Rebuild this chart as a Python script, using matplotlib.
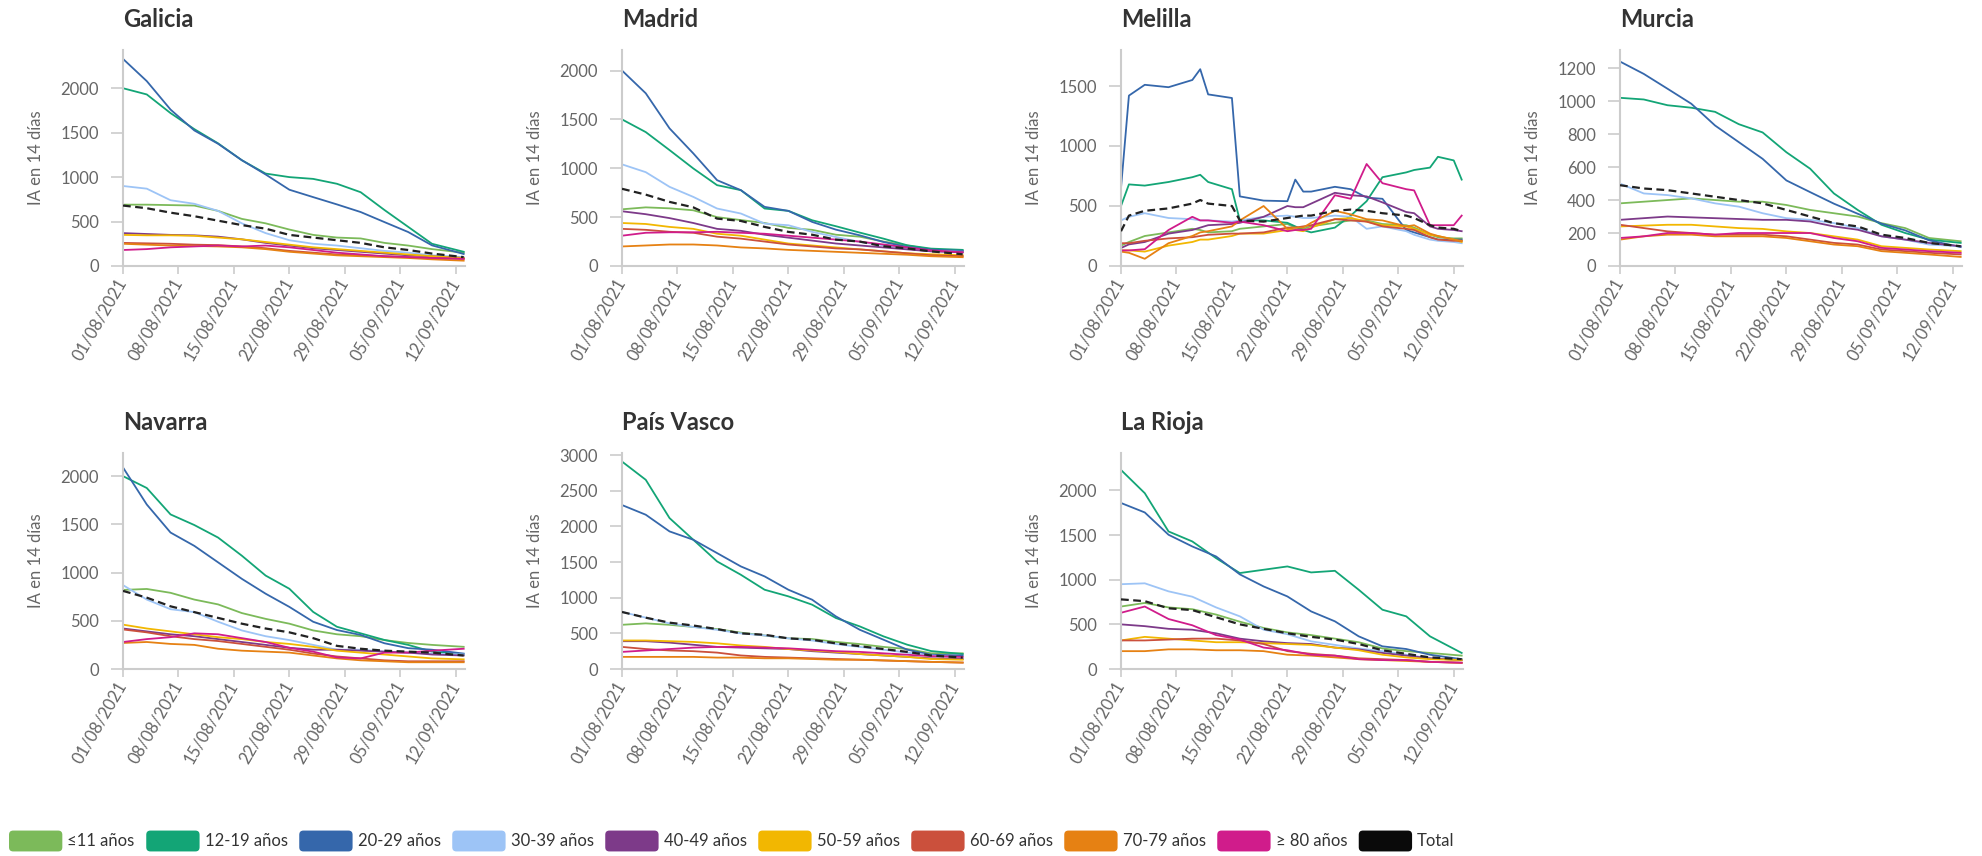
import numpy as np
import pandas as pd
import matplotlib
matplotlib.use("Agg")
import matplotlib.pyplot as plt
import matplotlib.dates as mdates
from matplotlib.patches import Patch, FancyBboxPatch
from matplotlib.legend_handler import HandlerPatch

plt.rcParams['font.family'] = ['Lato', 'DejaVu Sans']

# fechas muestreadas (cada 3 dias aprox.)
fechas = ['2021-08-01', '2021-08-04', '2021-08-07', '2021-08-10', '2021-08-13',
          '2021-08-16', '2021-08-19', '2021-08-22', '2021-08-25', '2021-08-28',
          '2021-08-31', '2021-09-03', '2021-09-06', '2021-09-09', '2021-09-13']
# Melilla tiene saltos bruscos, se lee con mas puntos
fechas_melilla = ['2021-08-01', '2021-08-02', '2021-08-04', '2021-08-07', '2021-08-10',
                  '2021-08-11', '2021-08-12', '2021-08-15', '2021-08-16', '2021-08-19',
                  '2021-08-22', '2021-08-23', '2021-08-24', '2021-08-25', '2021-08-28',
                  '2021-08-30', '2021-09-01', '2021-09-03', '2021-09-06', '2021-09-07',
                  '2021-09-09', '2021-09-10', '2021-09-12', '2021-09-13']

grupos = ['≤11 años', '12-19 años', '20-29 años', '30-39 años', '40-49 años',
          '50-59 años', '60-69 años', '70-79 años', '≥ 80 años', 'Total']
colores = ['#7cba5a', '#13a576', '#3567ab', '#9dc4f6', '#7d3a89',
           '#f2b701', '#cb503c', '#e68113', '#d01c8b', '#0a0a0a']

galicia = {
    '≤11 años':   [690, 690, 685, 680, 620, 530, 480, 410, 350, 320, 310, 260, 230, 190, 150],
    '12-19 años': [2000, 1930, 1720, 1540, 1380, 1190, 1040, 1000, 980, 925, 830, 630, 440, 250, 160],
    '20-29 años': [2330, 2080, 1760, 1525, 1375, 1190, 1030, 858, 775, 693, 607, 494, 382, 232, 135],
    '30-39 años': [900, 870, 740, 700, 620, 480, 370, 290, 250, 230, 200, 170, 150, 120, 100],
    '40-49 años': [370, 360, 350, 345, 330, 300, 260, 230, 200, 180, 160, 140, 120, 110, 90],
    '50-59 años': [350, 345, 345, 340, 320, 300, 270, 240, 210, 190, 170, 150, 130, 110, 90],
    '60-69 años': [260, 255, 250, 240, 235, 220, 200, 170, 150, 130, 120, 110, 100, 90, 80],
    '70-79 años': [250, 240, 230, 225, 220, 210, 190, 160, 140, 120, 110, 100, 90, 75, 60],
    '≥ 80 años':  [180, 190, 210, 220, 230, 220, 230, 210, 180, 150, 130, 110, 100, 90, 80],
    'Total':      [680, 650, 600, 560, 510, 460, 420, 350, 320, 290, 260, 210, 180, 140, 100],
}
madrid = {
    '≤11 años':   [580, 600, 590, 570, 500, 470, 440, 390, 370, 320, 300, 250, 210, 170, 150],
    '12-19 años': [1500, 1370, 1186, 998, 827, 776, 588, 564, 468, 407, 342, 280, 212, 178, 165],
    '20-29 años': [2000, 1767, 1408, 1152, 878, 776, 605, 564, 451, 372, 314, 246, 195, 167, 155],
    '30-39 años': [1040, 960, 810, 707, 588, 537, 434, 417, 349, 297, 246, 212, 178, 154, 145],
    '40-49 años': [560, 530, 490, 440, 380, 360, 320, 290, 260, 230, 210, 190, 170, 150, 140],
    '50-59 años': [440, 430, 400, 380, 330, 310, 270, 230, 210, 190, 170, 150, 130, 120, 110],
    '60-69 años': [380, 370, 350, 340, 300, 280, 250, 220, 200, 180, 170, 150, 130, 110, 100],
    '70-79 años': [200, 210, 220, 220, 210, 190, 180, 165, 155, 145, 135, 125, 115, 100, 90],
    '≥ 80 años':  [310, 340, 345, 345, 350, 340, 330, 310, 290, 270, 250, 220, 190, 160, 140],
    'Total':      [790, 730, 656, 600, 485, 461, 400, 349, 320, 270, 250, 202, 180, 150, 120],
}
melilla = {
    '≤11 años':   [170, 200, 250, 280, 310, 300, 280, 290, 310, 330, 350, 320,
                   310, 330, 360, 380, 380, 350, 340, 320, 260, 240, 230, 230],
    '12-19 años': [500, 680, 670, 700, 740, 760, 700, 640, 380, 380, 360, 330,
                   300, 280, 320, 420, 540, 740, 780, 800, 820, 910, 880, 720],
    '20-29 años': [650, 1420, 1510, 1490, 1550, 1640, 1430, 1400, 580, 545, 540, 720,
                   620, 620, 660, 640, 570, 560, 300, 280, 240, 220, 220, 220],
    '30-39 años': [380, 410, 440, 400, 390, 380, 380, 370, 380, 410, 420, 410,
                   400, 400, 420, 410, 310, 330, 290, 260, 220, 210, 200, 190],
    '40-49 años': [150, 180, 200, 270, 300, 320, 340, 350, 360, 410, 500, 490,
                   490, 520, 610, 590, 580, 530, 450, 440, 330, 310, 300, 290],
    '50-59 años': [130, 130, 120, 170, 200, 220, 220, 250, 270, 270, 300, 300,
                   290, 320, 390, 400, 370, 340, 330, 310, 260, 250, 220, 200],
    '60-69 años': [190, 190, 210, 230, 240, 250, 260, 270, 270, 280, 320, 320,
                   330, 340, 390, 380, 370, 330, 310, 300, 240, 220, 210, 210],
    '70-79 años': [120, 110, 60, 190, 250, 280, 290, 330, 380, 500, 310, 320,
                   320, 360, 460, 430, 390, 380, 330, 340, 270, 250, 220, 210],
    '≥ 80 años':  [130, 130, 140, 300, 410, 380, 380, 360, 370, 340, 290, 300,
                   300, 310, 590, 560, 850, 690, 640, 630, 340, 340, 340, 420],
    'Total':      [290, 420, 460, 480, 520, 550, 520, 500, 380, 370, 400, 410,
                   420, 420, 460, 470, 460, 440, 420, 400, 340, 320, 310, 290],
}
murcia = {
    '≤11 años':   [380, 390, 400, 410, 400, 390, 390, 370, 340, 320, 300, 260, 230, 170, 150],
    '12-19 años': [1020, 1010, 975, 960, 935, 860, 810, 690, 590, 440, 340, 250, 200, 160, 140],
    '20-29 años': [1240, 1165, 1075, 984, 852, 751, 650, 519, 448, 378, 317, 257, 216, 156, 115],
    '30-39 años': [500, 440, 430, 410, 380, 360, 320, 290, 280, 260, 230, 180, 160, 130, 120],
    '40-49 años': [280, 290, 300, 295, 290, 285, 280, 280, 270, 240, 220, 180, 160, 140, 120],
    '50-59 años': [240, 245, 250, 250, 240, 230, 225, 210, 200, 180, 160, 120, 110, 100, 90],
    '60-69 años': [250, 230, 210, 200, 190, 190, 190, 180, 160, 140, 130, 100, 90, 80, 70],
    '70-79 años': [160, 180, 190, 190, 180, 180, 180, 170, 150, 130, 120, 90, 80, 70, 55],
    '≥ 80 años':  [170, 180, 200, 200, 190, 200, 200, 200, 200, 170, 150, 110, 100, 90, 80],
    'Total':      [490, 470, 460, 440, 420, 400, 380, 340, 300, 260, 240, 190, 170, 140, 120],
}
navarra = {
    '≤11 años':   [820, 830, 790, 720, 670, 580, 520, 470, 400, 360, 340, 300, 270, 250, 230],
    '12-19 años': [2000, 1877, 1603, 1493, 1363, 1175, 969, 832, 592, 438, 370, 301, 250, 180, 150],
    '20-29 años': [2090, 1706, 1415, 1277, 1106, 935, 781, 644, 490, 404, 353, 267, 216, 200, 160],
    '30-39 años': [870, 720, 620, 590, 490, 400, 340, 300, 250, 200, 200, 180, 170, 160, 150],
    '40-49 años': [420, 390, 360, 340, 310, 280, 250, 220, 200, 200, 190, 180, 170, 150, 140],
    '50-59 años': [460, 420, 390, 360, 330, 310, 280, 260, 230, 190, 170, 150, 130, 110, 100],
    '60-69 años': [410, 380, 340, 310, 290, 260, 230, 200, 160, 130, 110, 90, 80, 80, 80],
    '70-79 años': [270, 280, 260, 250, 210, 190, 180, 170, 140, 110, 90, 80, 70, 70, 70],
    '≥ 80 años':  [280, 310, 330, 370, 360, 320, 280, 220, 180, 120, 110, 170, 170, 190, 210],
    'Total':      [810, 740, 650, 590, 530, 470, 420, 380, 320, 240, 210, 190, 180, 170, 140],
}
pais_vasco = {
    '≤11 años':   [620, 640, 620, 590, 560, 510, 470, 430, 420, 380, 350, 310, 280, 220, 220],
    '12-19 años': [2910, 2654, 2117, 1813, 1509, 1322, 1112, 1019, 902, 715, 598, 458, 341, 252, 210],
    '20-29 años': [2300, 2164, 1930, 1813, 1626, 1439, 1299, 1112, 972, 738, 551, 411, 271, 200, 190],
    '30-39 años': [800, 720, 640, 590, 550, 500, 470, 430, 400, 350, 310, 270, 230, 190, 160],
    '40-49 años': [390, 390, 370, 340, 310, 300, 290, 280, 250, 230, 210, 190, 170, 150, 140],
    '50-59 años': [400, 400, 390, 380, 360, 330, 310, 280, 260, 240, 210, 190, 170, 140, 130],
    '60-69 años': [310, 280, 260, 250, 230, 190, 170, 160, 150, 140, 130, 120, 110, 100, 90],
    '70-79 años': [170, 170, 170, 170, 160, 160, 150, 150, 140, 130, 130, 120, 110, 100, 90],
    '≥ 80 años':  [240, 260, 280, 300, 310, 310, 300, 290, 270, 250, 240, 220, 200, 180, 170],
    'Total':      [800, 720, 650, 610, 560, 500, 480, 430, 410, 360, 320, 280, 240, 190, 160],
}
la_rioja = {
    '≤11 años':   [700, 740, 690, 670, 610, 530, 460, 410, 380, 340, 300, 230, 200, 180, 150],
    '12-19 años': [2230, 1970, 1541, 1429, 1242, 1075, 1112, 1149, 1082, 1100, 888, 664, 590, 366, 180],
    '20-29 años': [1860, 1754, 1504, 1373, 1261, 1060, 925, 813, 645, 534, 366, 254, 224, 160, 110],
    '30-39 años': [950, 960, 870, 810, 690, 590, 440, 390, 310, 270, 230, 200, 160, 120, 100],
    '40-49 años': [500, 480, 450, 440, 400, 340, 310, 290, 280, 240, 220, 180, 150, 120, 100],
    '50-59 años': [320, 360, 340, 320, 300, 300, 290, 280, 270, 240, 210, 160, 130, 110, 100],
    '60-69 años': [320, 320, 330, 340, 340, 320, 280, 200, 170, 150, 120, 110, 100, 80, 70],
    '70-79 años': [200, 200, 220, 220, 210, 210, 200, 160, 150, 130, 110, 100, 90, 80, 70],
    '≥ 80 años':  [630, 700, 560, 490, 380, 330, 240, 210, 160, 150, 110, 100, 100, 80, 70],
    'Total':      [780, 760, 680, 660, 580, 500, 450, 400, 360, 330, 280, 210, 170, 130, 110],
}

regiones = ['Galicia', 'Madrid', 'Melilla', 'Murcia', 'Navarra', 'País Vasco', 'La Rioja']
datos = [galicia, madrid, melilla, murcia, navarra, pais_vasco, la_rioja]
ejes_x = [fechas, fechas, fechas_melilla, fechas, fechas, fechas, fechas]
y_max = [2430, 2210, 1800, 1310, 2240, 3030, 2420]
y_paso = [500, 500, 500, 200, 500, 500, 500]
y_top = [2000, 2000, 1500, 1200, 2000, 3000, 2000]

ticks_x = pd.date_range('2021-08-01', '2021-09-12', freq='7D')

W, H = 1982, 856
fig = plt.figure(figsize=(W / 100, H / 100), dpi=100)

lefts = [123, 622, 1121, 1620]
tops = [50, 453]
aw, ah = 342, 216
gris = '#cccccc'

for k, (nombre, d) in enumerate(zip(regiones, datos)):
    fila, col = divmod(k, 4)
    ax = fig.add_axes([lefts[col] / W, 1 - (tops[fila] + ah) / H, aw / W, ah / H])
    x = pd.to_datetime(ejes_x[k])
    for g, c in zip(grupos, colores):
        if g == 'Total':
            ax.plot(x, d[g], color='#222222', lw=1.6, ls=(0, (3.5, 2)), zorder=5)
        else:
            ax.plot(x, d[g], color=c, lw=1.3)
    ax.set_xlim(pd.Timestamp('2021-08-01'), pd.Timestamp('2021-09-13 04:00'))
    ax.set_ylim(0, y_max[k])
    ax.set_yticks(np.arange(0, y_top[k] + 1, y_paso[k]))
    ax.set_xticks(ticks_x)
    ax.xaxis.set_major_formatter(mdates.DateFormatter('%d/%m/%Y'))
    for s in ['top', 'right']:
        ax.spines[s].set_visible(False)
    for s in ['left', 'bottom']:
        ax.spines[s].set_color(gris)
        ax.spines[s].set_linewidth(1.5)
    ax.tick_params(axis='y', length=8.5, width=1.2, color=gris, labelcolor='#666666',
                   labelsize=12, pad=9)
    ax.tick_params(axis='x', length=6, width=1.2, color=gris, labelcolor='#666666',
                   labelsize=12, pad=4)
    for lab in ax.get_xticklabels():
        lab.set_rotation(60)
        lab.set_ha('right')
        lab.set_va('center')
        lab.set_rotation_mode('anchor')
    ax.set_ylabel('IA en 14 días', fontsize=12, color='#666666')
    ax.yaxis.set_label_coords(-0.232, 0.5)
    ax.text(0, 1 + 23 / ah, nombre, transform=ax.transAxes, ha='left', va='baseline',
            fontsize=17, fontweight='bold', color='#333333')


class RoundHandler(HandlerPatch):
    def create_artists(self, legend, orig_handle, xdescent, ydescent, width, height,
                       fontsize, trans):
        p = FancyBboxPatch((-xdescent, -ydescent), width, height,
                           boxstyle='round,pad=0,rounding_size=3',
                           fc=orig_handle.get_facecolor(), ec='none', transform=trans)
        return [p]


handles = [Patch(facecolor=c) for c in colores]
fig.legend(handles, grupos, loc='center left', bbox_to_anchor=(9 / W, 1 - 841 / H),
           ncol=10, frameon=False, fontsize=12, handlelength=3.2, handleheight=1.55,
           handletextpad=0.3, columnspacing=0.7, borderpad=0, borderaxespad=0,
           handler_map={Patch: RoundHandler()}, labelcolor='#333333')

fig.savefig('out.png', dpi=100)
